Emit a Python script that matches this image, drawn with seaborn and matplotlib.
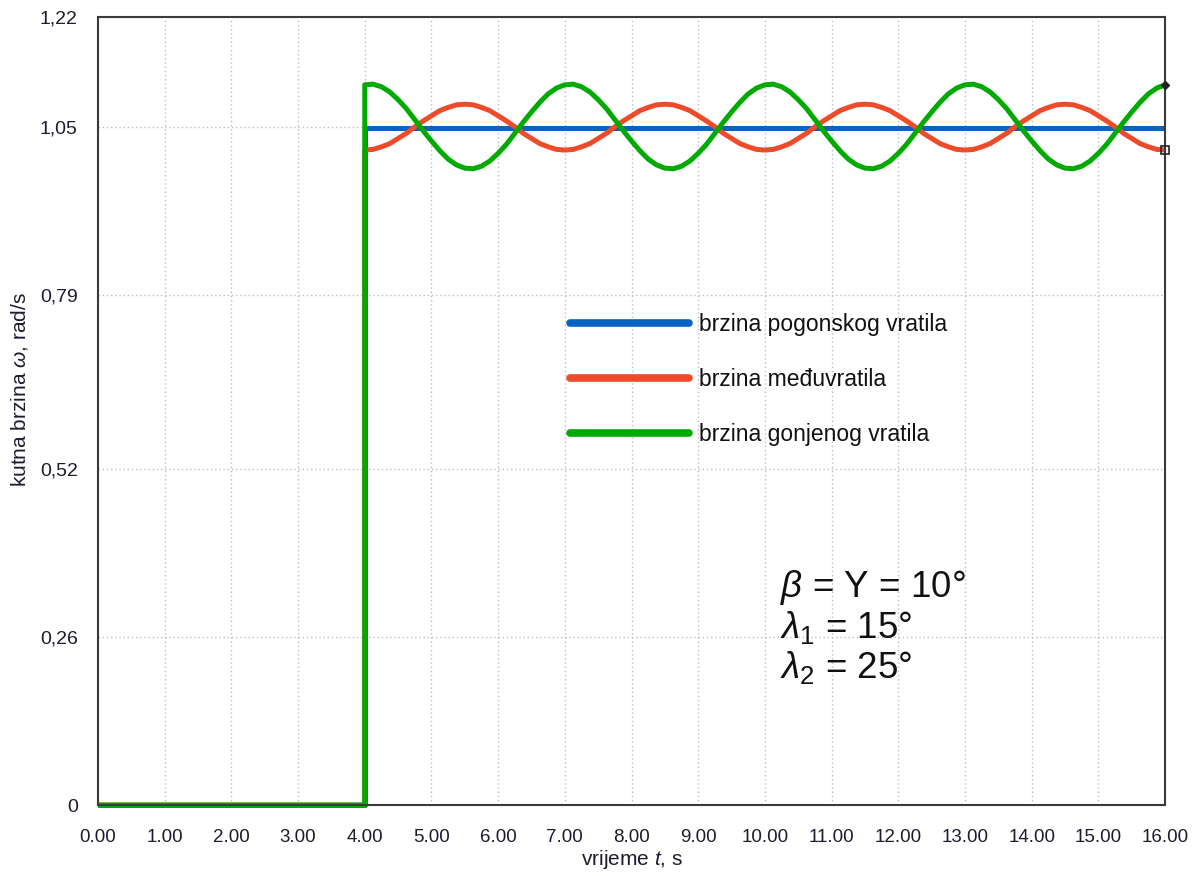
import matplotlib
matplotlib.use("Agg")
import matplotlib.pyplot as plt
import numpy as np
import pandas as pd
import seaborn as sns
from matplotlib.ticker import FixedLocator, MultipleLocator

# --- data ---
SERIES = ["brzina pogonskog vratila", "brzina međuvratila", "brzina gonjenog vratila"]
COLORS = ["#0563c1", "#ee4b2b", "#00aa00"]

# all shafts stand still until t = 4 s
T_START = [0.0, 4.0]
W_START = [0.0, 0.0]

# driving shaft: constant speed
T_BLUE = [4.0, 16.0]
W_BLUE = [1.048, 1.048]

# intermediate and driven shaft, sampled every 0.125 s from 4 s to 16 s
T_OSC = np.arange(4.0, 16.0 + 0.0625, 0.125)
W_RED = [
    1.014, 1.015, 1.019, 1.024, 1.032, 1.040, 1.050, 1.059, 1.067, 1.075, 1.080, 1.084,
    1.085, 1.084, 1.080, 1.075, 1.067, 1.059, 1.050, 1.040, 1.032, 1.024, 1.019, 1.015,
    1.014, 1.015, 1.019, 1.024, 1.032, 1.040, 1.050, 1.059, 1.067, 1.075, 1.080, 1.084,
    1.085, 1.084, 1.080, 1.075, 1.067, 1.059, 1.050, 1.040, 1.032, 1.024, 1.019, 1.015,
    1.014, 1.015, 1.019, 1.024, 1.032, 1.040, 1.050, 1.059, 1.067, 1.075, 1.080, 1.084,
    1.085, 1.084, 1.080, 1.075, 1.067, 1.059, 1.050, 1.040, 1.032, 1.024, 1.019, 1.015,
    1.014, 1.015, 1.019, 1.024, 1.032, 1.040, 1.050, 1.059, 1.067, 1.075, 1.080, 1.084,
    1.085, 1.084, 1.080, 1.075, 1.067, 1.059, 1.050, 1.040, 1.032, 1.024, 1.019, 1.015,
    1.014,
]
W_GREEN = [
    1.115, 1.116, 1.112, 1.104, 1.092, 1.078, 1.061, 1.044, 1.028, 1.013, 1.000, 0.991,
    0.986, 0.985, 0.989, 0.997, 1.009, 1.023, 1.040, 1.057, 1.073, 1.088, 1.101, 1.110,
    1.115, 1.116, 1.112, 1.104, 1.092, 1.078, 1.061, 1.044, 1.028, 1.013, 1.000, 0.991,
    0.986, 0.985, 0.989, 0.997, 1.009, 1.023, 1.040, 1.057, 1.073, 1.088, 1.101, 1.110,
    1.115, 1.116, 1.112, 1.104, 1.092, 1.078, 1.061, 1.044, 1.028, 1.013, 1.000, 0.991,
    0.986, 0.985, 0.989, 0.997, 1.009, 1.023, 1.040, 1.057, 1.073, 1.088, 1.101, 1.110,
    1.115, 1.116, 1.112, 1.104, 1.092, 1.078, 1.061, 1.044, 1.028, 1.013, 1.000, 0.991,
    0.986, 0.985, 0.989, 0.997, 1.009, 1.023, 1.040, 1.057, 1.073, 1.088, 1.101, 1.110,
    1.115,
]

X_TICKS = list(range(0, 17))
X_TICK_LABELS = [f"{v:.2f}" for v in X_TICKS]
Y_TICKS = [0.0, 0.26, 0.52, 0.79, 1.05, 1.22]
Y_TICK_LABELS = ["0", "0,26", "0,52", "0,79", "1,05", "1,22"]
Y_MINOR = [0.13, 0.39, 0.655, 0.92, 1.135]

ANNOTATIONS = [r"$\beta$ = $\Upsilon$ = 10°", r"$\lambda_1$ = 15°", r"$\lambda_2$ = 25°"]


def _series_frame(name, t_parts, w_parts):
    t = np.concatenate([np.asarray(p, dtype=float) for p in t_parts])
    w = np.concatenate([np.asarray(p, dtype=float) for p in w_parts])
    return pd.DataFrame({"t": t, "omega": w, "series": name})


df = pd.concat(
    [
        _series_frame(SERIES[0], [T_START, T_BLUE], [W_START, W_BLUE]),
        _series_frame(SERIES[1], [T_START, T_OSC], [W_START, W_RED]),
        _series_frame(SERIES[2], [T_START, T_OSC], [W_START, W_GREEN]),
    ],
    ignore_index=True,
)

sns.set_style("white")
plt.rcParams["font.family"] = ["Liberation Sans", "DejaVu Sans"]
plt.rcParams["mathtext.fontset"] = "custom"
plt.rcParams["mathtext.rm"] = "Liberation Sans"
plt.rcParams["mathtext.it"] = "Liberation Sans:italic"
plt.rcParams["mathtext.bf"] = "Liberation Sans:bold"

TEXT_COLOR = "#1c1c30"
AXIS_COLOR = "#3a3a3a"

fig = plt.figure(figsize=(11.95, 8.76), dpi=100)
ax = fig.add_axes([0.082, 0.081, 0.893, 0.8996])

sns.lineplot(
    data=df, x="t", y="omega", hue="series", hue_order=SERIES, palette=COLORS,
    sort=False, estimator=None, linewidth=3.6, legend=False, ax=ax,
)
for line in ax.lines:
    line.set_clip_on(False)
    line.set_solid_joinstyle("round")
    line.set_solid_capstyle("butt")

# end markers of the simulation traces
ax.plot(T_OSC[-1], W_RED[-1], marker="s", markersize=6, markerfacecolor="none",
        markeredgecolor="#222222", markeredgewidth=1.2, clip_on=False, zorder=5)
ax.plot(T_OSC[-1], W_GREEN[-1], marker="D", markersize=4, color="#222222",
        clip_on=False, zorder=5)

ax.set_xlim(0, 16)
ax.set_ylim(0, 1.22)
ax.set_xticks(X_TICKS)
ax.set_xticklabels(X_TICK_LABELS)
ax.xaxis.set_minor_locator(MultipleLocator(0.5))
ax.set_yticks(Y_TICKS)
ax.set_yticklabels(Y_TICK_LABELS)
ax.yaxis.set_minor_locator(FixedLocator(Y_MINOR))

ax.tick_params(axis="x", which="major", direction="out", length=5, width=1.3,
               color=AXIS_COLOR, labelsize=13.5, labelcolor=TEXT_COLOR, pad=12)
ax.tick_params(axis="x", which="minor", direction="inout", length=5, width=1.3,
               color=AXIS_COLOR)
ax.tick_params(axis="y", which="major", direction="inout", length=11, width=1.6,
               color="#111111", labelsize=14, labelcolor=TEXT_COLOR, pad=9)
ax.tick_params(axis="y", which="minor", direction="inout", length=6, width=1.3,
               color=AXIS_COLOR)

for spine in ax.spines.values():
    spine.set_visible(True)
    spine.set_color(AXIS_COLOR)
    spine.set_linewidth(1.5)

ax.grid(True, which="major", color="#bdbdbd", linestyle=(0, (1, 2)), linewidth=1.0)
ax.set_axisbelow(True)

ax.set_xlabel(r"vrijeme $t$, s", fontsize=15, color=TEXT_COLOR, labelpad=2)
ax.set_ylabel(r"kutna brzina $\omega$, rad/s", fontsize=15, color=TEXT_COLOR)
ax.yaxis.set_label_coords(-0.064, 0.527)

leg = ax.legend(
    ax.lines[:3], SERIES, loc="upper left", bbox_to_anchor=(0.442, 0.624),
    frameon=False, fontsize=16.5, handlelength=5.2, handletextpad=0.45,
    labelspacing=1.4, borderpad=0, borderaxespad=0,
)
for handle in leg.get_lines():
    handle.set_linewidth(5.5)
    handle.set_solid_capstyle("round")
for txt in leg.get_texts():
    txt.set_color("#111111")

for text, y in zip(ANNOTATIONS, [0.264, 0.212, 0.161]):
    ax.text(0.639, y, text, transform=ax.transAxes, fontsize=26.5, color="#111111",
            ha="left", va="baseline")

fig.savefig("out.png", dpi=100)
